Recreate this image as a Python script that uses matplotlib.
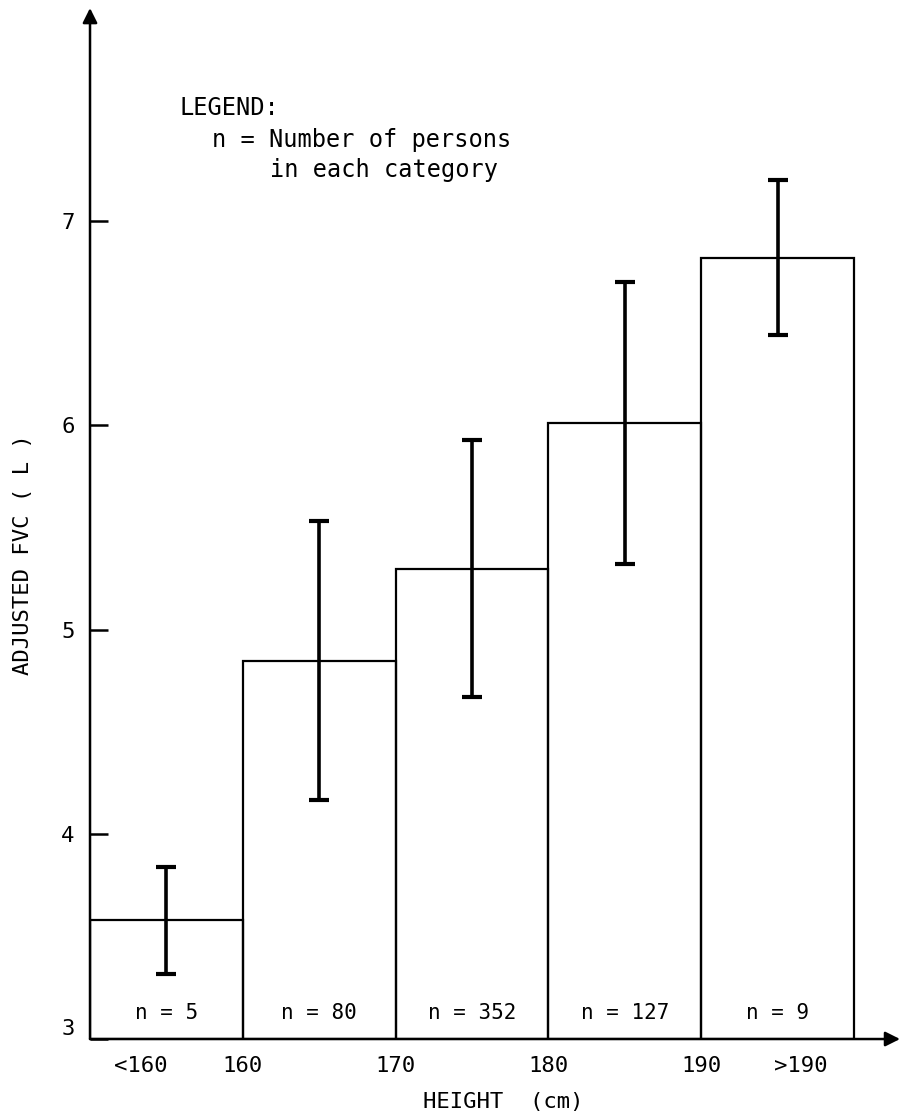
import numpy as np
import matplotlib
matplotlib.use('Agg')
import matplotlib.pyplot as plt

plt.rcParams['font.family'] = ['DejaVu Sans Mono', 'DejaVu Sans']

# data
groups = ['<160', '160-170', '170-180', '180-190', '>190']
fvc_mean = [3.58, 4.85, 5.30, 6.01, 6.82]
fvc_sd = [0.26, 0.68, 0.63, 0.69, 0.38]
n_persons = [5, 80, 352, 127, 9]
edge_labels = ['160', '170', '180', '190']
end_labels = ['<160', '>190']
y_ticks = [3, 4, 5, 6, 7]

base = 3
fig = plt.figure(figsize=(9.01, 11.2), dpi=100)
ax = fig.add_axes([0.0999, 0.0723, 0.899, 0.9205])
ax.set_xlim(0, 5.3)
ax.set_ylim(base, 8.04)

centers = np.arange(len(groups)) + 0.5
heights = np.array(fvc_mean) - base
ax.bar(centers, heights, bottom=base, width=1.0, fill=False,
       edgecolor='black', linewidth=1.6)
ax.errorbar(centers, fvc_mean, yerr=fvc_sd, fmt='none', ecolor='black',
            elinewidth=2.6, capsize=7, capthick=3)

for c, n in zip(centers, n_persons):
    ax.text(c, 3.127, 'n = %d' % n, ha='center', va='center', fontsize=15)

# axes with arrow heads
for s in ax.spines.values():
    s.set_visible(False)
ax.annotate('', xy=(0, 1), xytext=(0, 0), xycoords='axes fraction',
            arrowprops=dict(arrowstyle='-|>', color='black', lw=1.8,
                            mutation_scale=22, shrinkA=0, shrinkB=0))
ax.annotate('', xy=(1, 0), xytext=(0, 0), xycoords='axes fraction',
            arrowprops=dict(arrowstyle='-|>', color='black', lw=1.8,
                            mutation_scale=22, shrinkA=0, shrinkB=0))

ax.set_yticks(y_ticks)
ax.set_yticklabels([str(t) for t in y_ticks])
ax.tick_params(axis='y', direction='in', length=13, width=1.8, pad=11,
               labelsize=16)
# the "3" sits a little above the base line in the original
ax.get_yticklabels()[0].set_verticalalignment('bottom')

xt = [0.33, 1, 2, 3, 4, 4.65]
ax.set_xticks(xt)
ax.set_xticklabels([end_labels[0]] + edge_labels + [end_labels[1]])
ax.tick_params(axis='x', length=0, pad=12, labelsize=16)

ax.set_ylabel('ADJUSTED FVC ( L )', fontsize=16)
ax.yaxis.set_label_coords(-0.070, 0.47)
ax.set_xlabel('HEIGHT  (cm)', fontsize=16)
ax.xaxis.set_label_coords(0.51, -0.051)

# legend text block
ax.text(0.111, 0.903, 'LEGEND:', transform=ax.transAxes, fontsize=17,
        va='center')
ax.text(0.151, 0.872, 'n = Number of persons', transform=ax.transAxes,
        fontsize=17, va='center')
ax.text(0.222, 0.843, 'in each category', transform=ax.transAxes,
        fontsize=17, va='center')

fig.savefig('out.png', dpi=100)
